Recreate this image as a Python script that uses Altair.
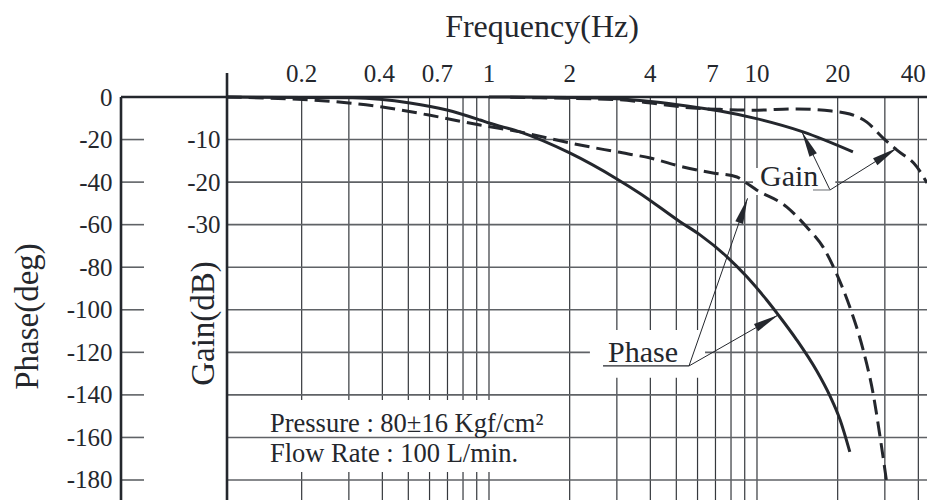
import altair as alt
import pandas as pd

# ---------------- layout / style constants ----------------
W, H = 806, 403
FONT = "Liberation Serif"
INK = "#24272d"
GRID_V = "#35383d"
GRID_H = "#5f6266"

# ---------------- scale extents ----------------
X_DOMAIN = [0.04235, 43.09]          # log frequency axis (Hz)
PHASE_DOMAIN = [-189.4, 0]           # deg
GAIN_DOMAIN = [-94.7, 0]             # dB
GAIN_AXIS_FREQ = 0.1053              # where the Gain(dB) axis sits

# ---------------- axis / grid values ----------------
FREQ_LABELS = [0.2, 0.4, 0.7, 1, 2, 4, 7, 10, 20, 40]
FREQ_TITLE = "Frequency(Hz)"
GRID_FREQS = [0.2, 0.3, 0.4, 0.5, 0.6, 0.7, 0.8, 0.9, 1, 2, 3, 4, 5, 6, 7, 8, 9, 10, 20, 30, 40]
PHASE_TICKS = [0, -20, -40, -60, -80, -100, -120, -140, -160, -180]
PHASE_GRID = [-20, -40, -60, -80, -100, -120, -140, -160, -180]
GAIN_TICKS = [-10, -20, -30]

# ---------------- curves ----------------
PHASE_SOLID_F = [0.105, 0.31, 0.507, 0.697, 0.926, 1.0, 1.305, 2.0, 3.0, 3.66, 5.16, 6.13,
                 7.71, 9.15, 10.87, 12.01, 14.06, 16.7, 18.73, 20.4, 22.2]
PHASE_SOLID = [0, -0.4, -2.8, -6.1, -10.8, -12.2, -16.4, -26.3, -38.5, -45.3, -58.6, -64.8,
               -75.0, -84.4, -95.4, -102.4, -114.1, -128.7, -140.6, -151.6, -166.8]

PHASE_DASH_F = [0.105, 0.30, 0.40, 0.597, 0.926, 1.305, 2.0, 3.0, 4.0, 5.3, 6.85, 8.42, 9.0,
                9.97, 12.9, 15.3, 17.7, 19.8, 22.2, 24.9, 27.1, 28.8, 30.5]
PHASE_DASH = [0, -2.8, -4.7, -8.5, -13.2, -16.4, -21.6, -25.8, -28.7, -32.9, -35.7, -37.6, -39.9,
              -43.7, -51.6, -61.0, -70.8, -83.0, -98.7, -118.9, -139.1, -159.8, -181.4]

GAIN_SOLID_F = [1.0, 2.0, 3.0, 4.09, 5.48, 7.28, 9.67, 14.85, 22.8]
GAIN_SOLID = [0, -0.1, -0.4, -1.1, -2.1, -3.3, -4.9, -8.2, -12.9]

GAIN_DASH_F = [1.2, 1.55, 3.0, 4.09, 5.77, 7.28, 9.67, 14.1, 19.0, 22.2, 25.7, 29.5, 33.3, 39.5, 43.1]
GAIN_DASH = [-0.05, -0.2, -0.6, -1.5, -2.6, -2.9, -3.1, -2.8, -3.3, -4.0, -5.9, -9.6, -12.5, -16.4, -20.2]

# ---------------- annotations (data coordinates: Hz, deg) ----------------
LEADER_F0 = [18.73, 18.73, 5.575, 5.575]
LEADER_P0 = [-43.7, -43.7, -126.4, -126.4]
LEADER_F1 = [14.72, 33.3, 9.22, 12.01]
LEADER_P1 = [-16.4, -24.0, -47.6, -102.4]
LEADER_ANGLE = [334.2, 57.9, 18.9, 60.2]

LABEL_TEXT = ["Gain", "Phase"]
LABEL_F = [10.26, 2.78]
LABEL_P = [-41.8, -124.5]

NOTE_TEXT = ["Pressure : 80\u00b116 Kgf/cm\u00b2", "Flow Rate : 100 L/min."]
NOTE_F = [0.1523, 0.1523]
NOTE_P = [-157.4, -171.5]

BOX_F0 = [0.1053, 2.38, 9.66]
BOX_F1 = [1.62, 6.40, 19.6]
BOX_P0 = [-142.4, -109.5, -33.4]
BOX_P1 = [-176.2, -132.0, -46.0]

# ---------------- helpers ----------------
xs = alt.Scale(type="log", domain=X_DOMAIN)
ps = alt.Scale(domain=PHASE_DOMAIN)
gs = alt.Scale(domain=GAIN_DOMAIN)


def X(field):
    return alt.X(f"{field}:Q", scale=xs, axis=None)


def YP(field, axis=None):
    return alt.Y(f"{field}:Q", scale=ps, axis=axis)


phase_axis = alt.Axis(
    orient="left", values=PHASE_TICKS, labelExpr="'' + datum.value",
    ticks=False, tickSize=0, domain=False, grid=False,
    labelFont=FONT, labelFontSize=25, labelColor=INK, labelPadding=9,
    labelOverlap=False, labelFlush=False,
    title="Phase(deg)", titleFont=FONT, titleFontSize=33, titleFontWeight="normal",
    titleColor=INK, titleX=-84, titleY=219, titleAngle=270, titleAlign="center",
    titleBaseline="alphabetic",
)

gain_axis = alt.Axis(
    orient="left", offset=-106, values=GAIN_TICKS, labelExpr="'' + datum.value",
    ticks=False, tickSize=0, domain=False, grid=False,
    labelFont=FONT, labelFontSize=25, labelColor=INK, labelPadding=7,
    labelOverlap=False, labelFlush=False,
    title="Gain(dB)", titleFont=FONT, titleFontSize=33, titleFontWeight="normal",
    titleColor=INK, titleX=-14, titleY=226, titleAngle=270, titleAlign="center",
    titleBaseline="alphabetic",
)

# ---------------- data frames ----------------
vgrid_df = pd.DataFrame({"freq": GRID_FREQS})
flab_df = pd.DataFrame({"freq": FREQ_LABELS})
ftitle_df = pd.DataFrame({"text": [FREQ_TITLE]})
hgrid_df = pd.DataFrame({"phase": PHASE_GRID, "f0": [GAIN_AXIS_FREQ] * len(PHASE_GRID)})
ticks_df = pd.DataFrame({"phase": PHASE_TICKS})
box_df = pd.DataFrame({"f0": BOX_F0, "f1": BOX_F1, "p0": BOX_P0, "p1": BOX_P1})
top_df = pd.DataFrame({"phase": [0]})
gaxis_df = pd.DataFrame({"f": [GAIN_AXIS_FREQ]})
one_df = pd.DataFrame({"k": [0]})
ph_solid_df = pd.DataFrame({"freq": PHASE_SOLID_F, "phase": PHASE_SOLID})
ph_dash_df = pd.DataFrame({"freq": PHASE_DASH_F, "phase": PHASE_DASH})
g_solid_df = pd.DataFrame({"freq": GAIN_SOLID_F, "gain": GAIN_SOLID})
g_dash_df = pd.DataFrame({"freq": GAIN_DASH_F, "gain": GAIN_DASH})
leader_df = pd.DataFrame({"f0": LEADER_F0, "p0": LEADER_P0, "f1": LEADER_F1,
                          "p1": LEADER_P1, "angle": LEADER_ANGLE})
under_df = pd.DataFrame({"f0": [16.18, 2.664], "f1": [18.73, 5.575], "p0": [-43.7, -126.4],
                         "col": ["#8a8d91", INK]})
label_df = pd.DataFrame({"text": LABEL_TEXT, "f": LABEL_F, "p": LABEL_P})
note_df = pd.DataFrame({"text": NOTE_TEXT, "f": NOTE_F, "p": NOTE_P})

# ---------------- layers ----------------
vgrid = alt.Chart(vgrid_df).mark_rule(color=GRID_V, strokeWidth=1.2).encode(x=X("freq"))


def freq_labels(test, dx):
    return alt.Chart(flab_df).transform_filter(test).mark_text(
        font=FONT, fontSize=25, color=INK, baseline="alphabetic", align="center", dx=dx
    ).encode(x=X("freq"), y=alt.value(-15), text=alt.Text("freq:Q", format="~g"))


flab_main = freq_labels(
    "datum.freq != 0.7 && datum.freq != 0.4 && datum.freq != 7 && datum.freq != 40", 0)
flab_07 = freq_labels("datum.freq == 0.7", -10)
flab_small = freq_labels("datum.freq == 0.4 || datum.freq == 7", -3)
flab_40 = freq_labels("datum.freq == 40", -5)

ftitle = alt.Chart(ftitle_df).mark_text(
    font=FONT, fontSize=32, color=INK, baseline="alphabetic", align="center"
).encode(x=alt.value(421), y=alt.value(-60), text="text:N")

box_pressure = alt.Chart(box_df.iloc[[0]]).mark_rect(color="white").encode(
    x=X("f0"), x2="f1", y=YP("p0"), y2="p1")

hgrid = alt.Chart(hgrid_df).mark_rule(color=GRID_H, strokeWidth=1.6).encode(
    x=X("f0"), x2=alt.value(W), y=YP("phase"))

ticks = alt.Chart(ticks_df).mark_rule(color=GRID_H, strokeWidth=1.6).encode(
    x=alt.value(0), x2=alt.value(23), y=YP("phase", phase_axis))

box_labels = alt.Chart(box_df.iloc[[1, 2]]).mark_rect(color="white").encode(
    x=X("f0"), x2="f1", y=YP("p0"), y2="p1")

top_line = alt.Chart(top_df).mark_rule(color=INK, strokeWidth=2.6).encode(y=YP("phase"))

phase_line = alt.Chart(one_df).mark_rule(color=INK, strokeWidth=2.6).encode(
    x=alt.value(0), y=alt.value(0), y2=alt.value(H))

gain_line = alt.Chart(gaxis_df).mark_rule(color=INK, strokeWidth=2.6).encode(
    x=X("f"), y=alt.value(-24), y2=alt.value(H))

ph_solid = alt.Chart(ph_solid_df).mark_line(
    color=INK, strokeWidth=3, interpolate="monotone").encode(x=X("freq"), y=YP("phase"))

ph_dash = alt.Chart(ph_dash_df).mark_line(
    color=INK, strokeWidth=3, strokeDash=[15, 7], interpolate="monotone").encode(
    x=X("freq"), y=YP("phase"))

g_solid = alt.Chart(g_solid_df).mark_line(
    color=INK, strokeWidth=3, interpolate="monotone").encode(
    x=X("freq"), y=alt.Y("gain:Q", scale=gs, axis=gain_axis))

g_dash = alt.Chart(g_dash_df).mark_line(
    color=INK, strokeWidth=3, strokeDash=[15, 7], interpolate="monotone").encode(
    x=X("freq"), y=alt.Y("gain:Q", scale=gs, axis=None))

leaders = alt.Chart(leader_df).mark_rule(color=INK, strokeWidth=1).encode(
    x=X("f0"), y=YP("p0"), x2="f1", y2="p1")

unders = alt.Chart(under_df).mark_rule(strokeWidth=1.3).encode(
    x=X("f0"), x2="f1", y=YP("p0"), color=alt.Color("col:N", scale=None))

heads = alt.Chart(leader_df).mark_point(
    shape="M0,0L0.32,2L-0.32,2Z", filled=True, opacity=1, color=INK, size=660).encode(
    x=X("f1"), y=YP("p1"), angle=alt.Angle("angle:Q", scale=None))

labels = alt.Chart(label_df).mark_text(
    align="left", baseline="alphabetic", font=FONT, fontSize=30, color=INK).encode(
    x=X("f"), y=YP("p"), text="text:N")

notes = alt.Chart(note_df).mark_text(
    align="left", baseline="alphabetic", font=FONT, fontSize=26.5, color=INK).encode(
    x=X("f"), y=YP("p"), text="text:N")

chart = alt.layer(
    vgrid, flab_main, flab_07, flab_small, flab_40, ftitle,
    box_pressure, hgrid, ticks, box_labels, top_line, phase_line, gain_line,
    ph_solid, ph_dash, g_solid, g_dash, leaders, unders, heads, labels, notes,
).resolve_scale(y="independent").properties(
    width=W, height=H,
    autosize=alt.AutoSizeParams(type="none"),
    padding={"left": 113, "top": 89, "right": 0, "bottom": 0},
    background="white",
).configure_view(stroke=None)

chart.save("out.html", embed_options={"renderer": "svg", "actions": False})
